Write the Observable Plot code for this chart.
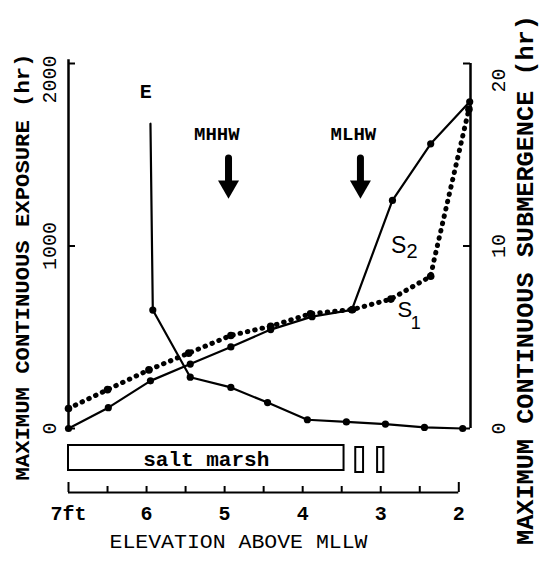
<!DOCTYPE html>
<html>
<head>
<meta charset="utf-8">
<script src="https://cdn.jsdelivr.net/npm/d3@7"></script>
<script src="https://cdn.jsdelivr.net/npm/@observablehq/plot@0.6"></script>
<style>
  html, body { margin: 0; padding: 0; background: #fff; }
  #chart svg { display: block; }
</style>
</head>
<body>
<div id="chart"></div>
<script>
// ---- data ----
// Exposure curve E (left axis, hours) vs elevation (ft above MLLW)
const elevE = [5.95, 5.92, 5.44, 4.92, 4.45, 3.94, 3.44, 2.94, 2.44, 1.95];
const exposureE = [1670, 649, 281, 225, 142, 48, 36, 24, 6, 0];
// Submergence curves S1 (dotted) and S2 (solid), right axis, hours
const elevS1 = [7.0, 6.5, 5.97, 5.46, 4.92, 4.41, 3.9, 3.36, 2.87, 2.36, 2.32, 1.87];
const subS1 = [1.1, 2.13, 3.21, 4.13, 5.1, 5.6, 6.29, 6.52, 7.09, 8.34, 9.17, 17.5];
const elevS2 = [7.0, 6.49, 5.95, 5.44, 4.92, 4.41, 3.88, 3.37, 2.85, 2.36, 1.86];
const subS2 = [0, 1.14, 2.61, 3.53, 4.47, 5.42, 6.13, 6.5, 12.5, 15.6, 17.9];
// axes
const leftTicks = [0, 1000, 2000];
const rightTicks = [0, 10, 20];
const elevTicks = [7, 6, 5, 4, 3, 2];
const elevTickLabels = ["7ft", "6", "5", "4", "3", "2"];
const rulerTicks = [7, 6.5, 6, 5.5, 5, 4.5, 4, 3.5, 3, 2.5, 2];
// tidal datums
const datumNames = ["MHHW", "MLHW"];
const datumElev = [4.95, 3.26];
const datumLabelElev = [5.10, 3.35];
// zones along the elevation bar
const marsh = [{label: "salt marsh", from: 7.0, to: 3.47}];
const smallZones = [{from: 3.32, to: 3.22}, {from: 3.04, to: 2.96}];

const K = 100; // right-axis hours -> left-axis units
const E = elevE.map((e, i) => ({elev: e, v: exposureE[i], i}));
const S1 = elevS1.map((e, i) => ({elev: e, v: subS1[i] * K, i}));
const S2 = elevS2.map((e, i) => ({elev: e, v: subS2[i] * K, i}));
const datums = datumNames.map((n, i) => ({name: n, elev: datumElev[i], lab: datumLabelElev[i]}));

const mono = "Liberation Mono, DejaVu Sans Mono, monospace";
const sans = "Liberation Sans, Arial, sans-serif";
const pxPerUnit = 365 / 2000;

const chart = Plot.plot({
  width: 540,
  height: 565,
  marginLeft: 68,
  marginRight: 70,
  marginTop: 63,
  marginBottom: 137,
  x: {domain: [7, 1.85], axis: null},
  y: {domain: [0, 2000], axis: null},
  style: {background: "#fff", color: "#000", fontFamily: mono, overflow: "visible"},
  marks: [
    // frame axes
    Plot.ruleX([7], {y1: 0, y2: 2020, stroke: "#000", strokeWidth: 2.5}),
    Plot.ruleX([1.85], {y1: 0, y2: 2000, stroke: "#000", strokeWidth: 2.5}),
    Plot.ruleY(leftTicks, {y: d => d, x1: 7, x2: 7 - 7 / 78, stroke: "#000", strokeWidth: 2}),
    Plot.ruleY(rightTicks, {y: d => d * K, x1: 1.85, x2: 1.85 + 7 / 78, stroke: "#000", strokeWidth: 2}),
    Plot.text(leftTicks.filter(d => d < 2000), {x: 7, y: d => d, text: d => String(d), rotate: -90, dx: -19, fontSize: 20, fill: "#000"}),
    Plot.text(leftTicks.filter(d => d >= 2000), {x: 7, y: d => d, text: d => String(d), rotate: -90, dx: -19, dy: -8, textAnchor: "end", fontSize: 20, fill: "#000"}),
    Plot.text(rightTicks.filter(d => d < 20), {x: 1.85, y: d => d * K, text: d => String(d), rotate: -90, dx: 28, fontSize: 20, fill: "#000"}),
    Plot.text(rightTicks.filter(d => d >= 20), {x: 1.85, y: d => d * K, text: d => String(d), rotate: -90, dx: 28, dy: 5, textAnchor: "end", fontSize: 20, fill: "#000"}),
    // axis titles (start-anchored, stretched to the reference length below)
    Plot.text(["MAXIMUM CONTINUOUS EXPOSURE (hr)"], {frameAnchor: "left", dx: -46.5, dy: 234.5, rotate: -90, textAnchor: "start", fontSize: 21, fontWeight: "bold", fill: "#000"}),
    Plot.text(["MAXIMUM CONTINUOUS SUBMERGENCE (hr)"], {frameAnchor: "right", dx: 55, dy: 299, rotate: -90, textAnchor: "start", fontSize: 23, fontWeight: "bold", fill: "#000"}),
    // elevation ruler
    Plot.ruleY([0], {x1: 7, x2: 2, dy: 64, stroke: "#000", strokeWidth: 2}),
    Plot.ruleX(rulerTicks, {x: d => d, y1: 0, y2: d => (d === 7 || d === 2 ? 10 : 6) / pxPerUnit, dy: 64, stroke: "#000", strokeWidth: 2}),
    Plot.text(elevTicks, {x: d => d, y: 0, text: (d, i) => elevTickLabels[i], dy: 85, fontSize: 20, fontWeight: "bold", fill: "#000"}),
    Plot.text(["ELEVATION ABOVE MLLW"], {frameAnchor: "bottom", dx: -160, dy: 119, textAnchor: "start", fontSize: 20, fill: "#000"}),
    // zone bar
    Plot.rect(marsh, {x1: "from", x2: "to", y1: 0, y2: 25 / pxPerUnit, dy: 42, fill: "none", stroke: "#000", strokeWidth: 2}),
    Plot.text(marsh, {x: d => (d.from + d.to) / 2, y: 0, text: "label", dy: 31, fontSize: 21, fontWeight: "bold", fill: "#000"}),
    Plot.rect(smallZones, {x1: "from", x2: "to", y1: 0, y2: 25 / pxPerUnit, dy: 44, fill: "none", stroke: "#000", strokeWidth: 2}),
    // datum arrows
    Plot.text(datums, {x: "lab", y: 1615, text: "name", fontSize: 19, fontWeight: "bold", fill: "#000"}),
    Plot.ruleX(datums, {x: "elev", y1: 1480, y2: 1335, stroke: "#000", strokeWidth: 7, strokeLinecap: "round"}),
    Plot.dot(datums, {x: "elev", y: 1326, symbol: "triangle", rotate: 180, r: 7.8, fill: "#000", stroke: "none"}),
    // curves
    Plot.line(S1, {x: "elev", y: "v", stroke: "#000", strokeWidth: 5, strokeDasharray: "0.5 7", strokeLinecap: "round"}),
    Plot.dot(S1.filter(d => d.i !== 10), {x: "elev", y: "v", r: 3.8, fill: "#000", stroke: "none"}),
    Plot.line(S2, {x: "elev", y: "v", stroke: "#000", strokeWidth: 2.2}),
    Plot.dot(S2, {x: "elev", y: "v", r: 3.6, fill: "#000", stroke: "none"}),
    Plot.line(E, {x: "elev", y: "v", stroke: "#000", strokeWidth: 2.2}),
    Plot.dot(E.filter(d => d.i > 0), {x: "elev", y: "v", r: 3.6, fill: "#000", stroke: "none"}),
    // curve labels
    Plot.text(["E"], {x: 6.01, y: 1847, fontSize: 20, fontWeight: "bold", fill: "#000"}),
    Plot.text(["S"], {x: 2.77, y: 1003, fontSize: 23, fontFamily: sans, fill: "#000"}),
    Plot.text(["2"], {x: 2.60, y: 970, fontSize: 20, fontFamily: sans, fill: "#000"}),
    Plot.text(["S"], {x: 2.69, y: 647, fontSize: 22, fontFamily: sans, fill: "#000"}),
    Plot.text(["1"], {x: 2.55, y: 575, fontSize: 18, fontFamily: sans, fill: "#000"})
  ]
});

const sel = d3.select(chart);
const fit = {"MAXIMUM CONTINUOUS EXPOSURE (hr)": 427, "MAXIMUM CONTINUOUS SUBMERGENCE (hr)": 530, "ELEVATION ABOVE MLLW": 258};
sel.selectAll("text").each(function() {
  const t = this.textContent;
  if (fit[t]) d3.select(this).attr("textLength", fit[t]).attr("lengthAdjust", "spacingAndGlyphs");
});
document.getElementById("chart").appendChild(chart);
</script>
</body>
</html>
